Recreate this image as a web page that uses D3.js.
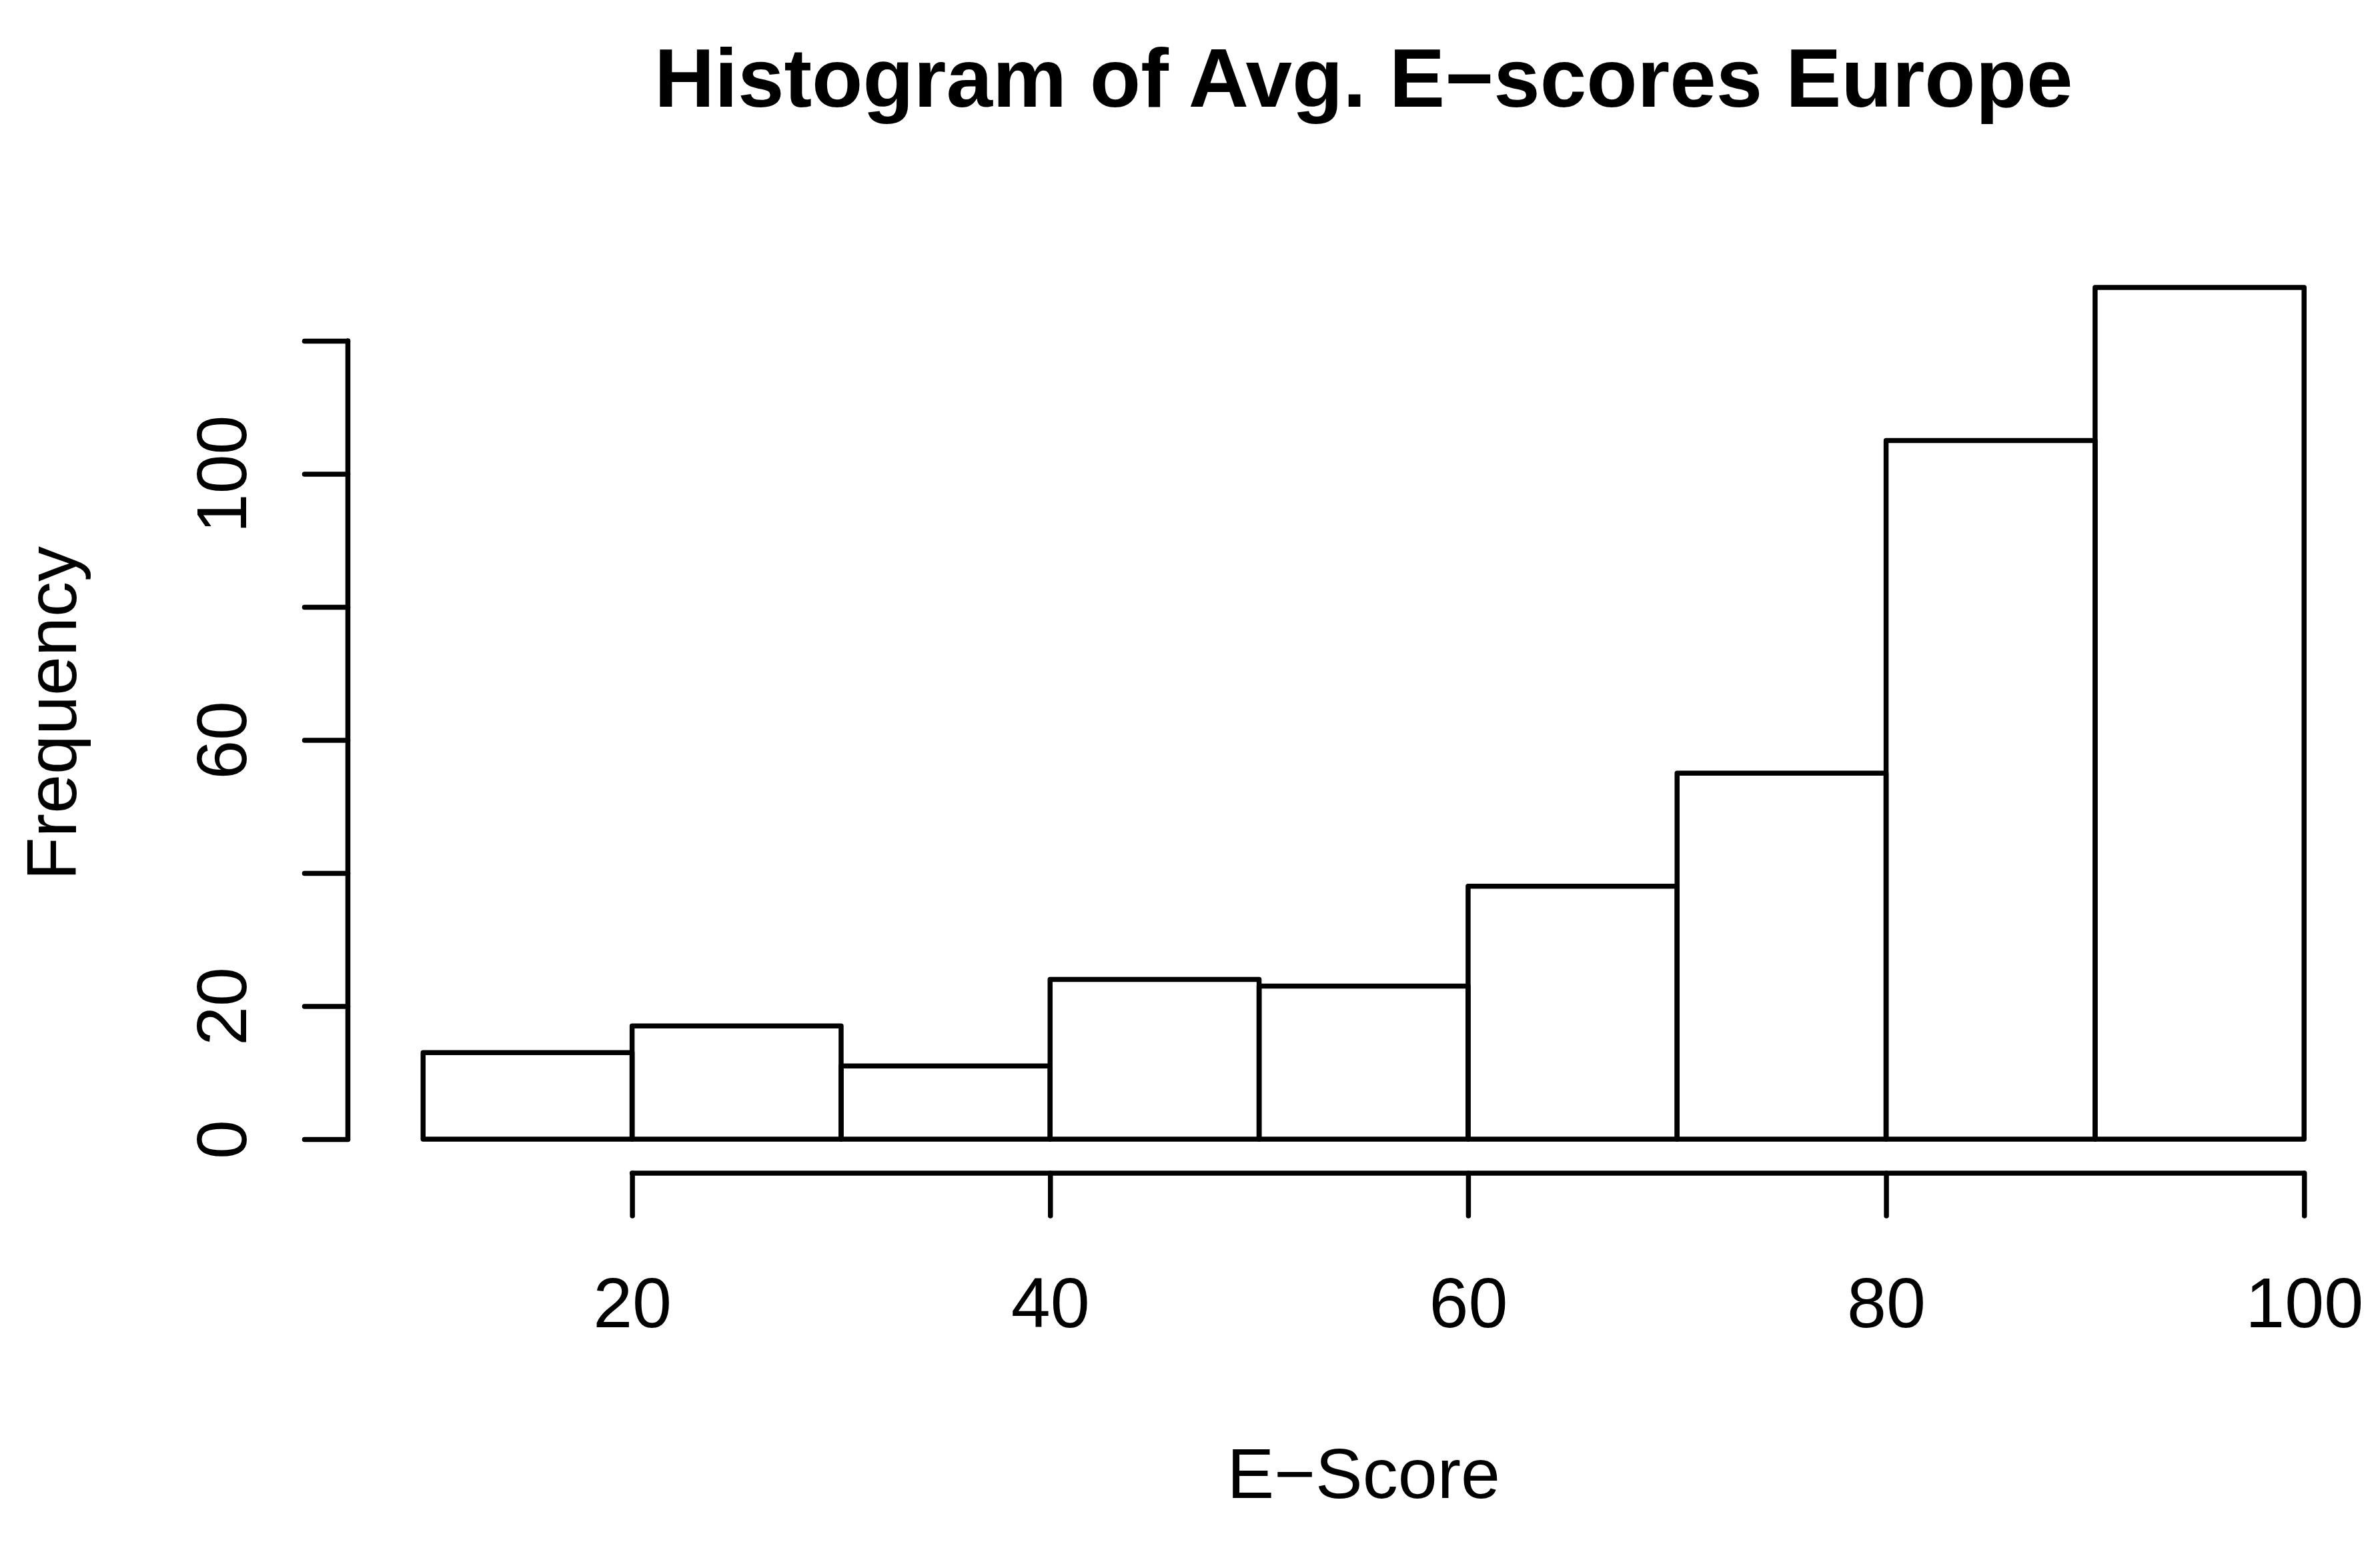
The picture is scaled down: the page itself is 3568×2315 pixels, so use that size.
<!DOCTYPE html>
<html>
<head>
<meta charset="utf-8">
<script src="https://cdn.jsdelivr.net/npm/d3@7"></script>
<style>
  body{margin:0;background:#fff;}
  text{font-family:"Liberation Sans",Arial,Helvetica,sans-serif;fill:#000;}
</style>
</head>
<body>
<svg width="3568" height="2315"></svg>
<script>
// histogram data (bins of width 10)
const binStarts=[10,20,30,40,50,60,70,80,90];
const counts=[13,17,11,24,23,38,55,105,128];
const xTicks=[20,40,60,80,100];
const yTicks=[0,20,40,60,80,100,120];
const yLabels=[0,20,60,100]; // R drops the labels that would overlap

const svg=d3.select('svg');
const width=+svg.attr('width');
const height=+svg.attr('height');
const lw=7.5;

/* scales: R style 4% extension around data range */
const xMin=10, xMax=100, yMax=d3.max(counts);
const xPad=(xMax-xMin)*0.04, yPad=yMax*0.04;
const xScale=d3.scaleLinear()
  .domain([xMin-xPad,xMax+xPad])
  .range([521.5,3567]);
const yScale=d3.scaleLinear()
  .domain([-yPad,yMax+yPad])
  .range([1759,380]);

/* bars */
svg.append('g')
  .selectAll('rect')
  .data(binStarts)
  .enter()
  .append('rect')
    .attr('x',d=>xScale(d))
    .attr('y',(d,i)=>yScale(counts[i]))
    .attr('width',d=>xScale(d+10)-xScale(d))
    .attr('height',(d,i)=>yScale(0)-yScale(counts[i]))
    .attr('fill','none')
    .attr('stroke','#000')
    .attr('stroke-width',lw)
    .attr('stroke-linejoin','round');

/* x-axis */
const xAxis=d3.axisBottom(xScale)
  .tickValues(xTicks)
  .tickSize(64)
  .tickSizeOuter(0)
  .tickFormat(d3.format('d'));
const gx=svg.append('g')
  .attr('transform',`translate(0,${yScale.range()[0]})`)
  .call(xAxis);
gx.select('.domain').remove();
gx.append('line')
  .attr('x1',xScale(xTicks[0]))
  .attr('x2',xScale(xTicks[xTicks.length-1]))
  .attr('stroke','#000');
gx.selectAll('line')
  .attr('stroke','#000')
  .attr('stroke-width',lw)
  .attr('stroke-linecap','round');
gx.selectAll('text')
  .attr('y',231)
  .attr('dy',0)
  .style('font-size','106px')
  .style('font-family','"Liberation Sans",Arial,sans-serif');

/* y-axis */
const yAxis=d3.axisLeft(yScale)
  .tickValues(yTicks)
  .tickSize(65)
  .tickSizeOuter(0)
  .tickFormat(d=>yLabels.includes(d)?d:'');
const gy=svg.append('g')
  .attr('transform',`translate(${xScale.range()[0]},0)`)
  .call(yAxis);
gy.select('.domain').remove();
gy.append('line')
  .attr('y1',yScale(yTicks[0]))
  .attr('y2',yScale(yTicks[yTicks.length-1]));
gy.selectAll('line')
  .attr('stroke','#000')
  .attr('stroke-width',lw)
  .attr('stroke-linecap','round');
gy.selectAll('text')
  .attr('x',0)
  .attr('y',0)
  .attr('dy',0)
  .attr('text-anchor','middle')
  .attr('transform','translate(-152.5,0) rotate(-90)')
  .style('font-size','106px')
  .style('font-family','"Liberation Sans",Arial,sans-serif');

/* titles */
const cx=(xScale.range()[0]+xScale.range()[1])/2;
const cy=(yScale.range()[0]+yScale.range()[1])/2;
svg.append('text')
  .attr('x',cx)
  .attr('y',160)
  .attr('text-anchor','middle')
  .style('font-size','125px')
  .style('font-weight','bold')
  .text('Histogram of Avg. E\u2212scores Europe');
svg.append('text')
  .attr('x',cx)
  .attr('y',2246)
  .attr('text-anchor','middle')
  .style('font-size','106px')
  .text('E\u2212Score');
svg.append('text')
  .attr('transform',`translate(114,${cy}) rotate(-90)`)
  .attr('text-anchor','middle')
  .style('font-size','106px')
  .text('Frequency');
</script>
</body>
</html>
